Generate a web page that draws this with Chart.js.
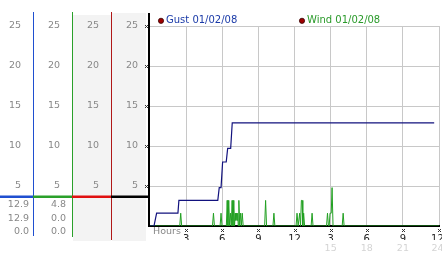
<!DOCTYPE html>
<html>
<head>
<meta charset="utf-8">
<script src="https://cdn.jsdelivr.net/npm/chart.js@4.4.0/dist/chart.umd.min.js"></script>
<style>
  html, body { margin: 0; padding: 0; background: #fff; }
  canvas { display: block; }
</style>
</head>
<body>
<canvas id="chart" width="442" height="253"></canvas>
<script>
// hours since midnight / mph
const gustHours  = [0, 0.33, 0.55, 2.32, 2.4, 5.63, 5.75, 5.9, 6.03, 6.33, 6.45, 6.7, 6.83, 23.6];
const gustValues = [0, 0, 1.6, 1.6, 3.2, 3.2, 4.8, 4.8, 8.0, 8.0, 9.7, 9.7, 12.9, 12.9];

const windHours = [0, 2.47, 2.55, 2.63, 5.19, 5.27, 5.35, 5.82, 5.9, 5.98,
  6.34, 6.41, 6.47, 6.54, 6.61, 6.68, 6.75, 6.82, 6.89, 6.96, 7.02, 7.08, 7.13, 7.18, 7.23, 7.28, 7.33, 7.38, 7.45, 7.52, 7.59, 7.66, 7.74,
  9.52, 9.6, 9.68, 10.21, 10.29, 10.37,
  12.13, 12.21, 12.3, 12.43, 12.5, 12.57, 12.63, 12.69, 12.76, 12.84,
  13.38, 13.46, 13.54, 14.66, 14.74, 14.82, 14.88, 14.95, 15.05, 15.12, 15.2,
  15.96, 16.04, 16.12, 24];
const windValues = [0, 0, 1.6, 0, 0, 1.6, 0, 0, 1.6, 0,
  0, 3.2, 0, 3.2, 0, 1.6, 0, 3.2, 0, 3.2, 0, 1.6, 0.7, 1.6, 0.7, 1.6, 0, 3.2, 0, 1.6, 0, 1.6, 0,
  0, 3.2, 0, 0, 1.6, 0,
  0, 1.6, 0, 1.6, 0, 3.2, 3.2, 0, 1.6, 0,
  0, 1.6, 0, 0, 1.6, 0, 0, 1.6, 1.6, 4.8, 0,
  0, 1.6, 0, 0];

const hourTicks  = [0, 3, 6, 9, 12, 15, 18, 21, 24];
const hourLabels = ['', '3', '6', '9', '12', '3', '6', '9', '12 '];
const lateLabels = ['', '', '', '', '', '15', '18', '21', '24 '];
const legendLabels = ['Gust 01/02/08', 'Wind 01/02/08'];
const gustStats = ['12.9', '12.9', '0.0'];
const windStats = ['4.8', '0.0', '0.0'];

const FONT = 'DejaVu Sans';
const smallFont = { family: FONT, size: 9.5 };

function sideAxis(width, weight, grid) {
  return {
    type: 'linear', position: 'left', min: 0, max: 25, weight: weight,
    afterFit: s => { s.width = width; },
    grid: grid ? { color: '#c8c8c8', drawTicks: false } : { display: false, drawTicks: false },
    border: { display: false },
    ticks: { stepSize: 5, padding: 12, color: '#888', font: smallFont,
      callback: v => v === 0 ? '' : v }
  };
}

function mark(ctx, x, y) {
  ctx.fillRect(x - 1, y - 1, 1, 1);
  ctx.fillRect(x + 1, y - 1, 1, 1);
  ctx.fillRect(x, y, 1, 1);
  ctx.fillRect(x - 1, y + 1, 1, 1);
  ctx.fillRect(x + 1, y + 1, 1, 1);
}

const panelPlugin = {
  id: 'panel',
  beforeDraw(chart) {
    const { ctx, scales } = chart;
    ctx.save();
    ctx.fillStyle = '#f3f3f3';
    ctx.fillRect(scales.yR.left + 1, 15, scales.yR.width - 1, 226);
    ctx.fillRect(scales.y.left + 1, 13, scales.y.width - 5, 228);
    ctx.restore();
  },
  afterDraw(chart) {
    const { ctx, scales, chartArea } = chart;
    ctx.save();
    // column lines
    ctx.fillStyle = '#1f4fd0';
    ctx.fillRect(scales.yB.right, 12, 1, 224);
    ctx.fillStyle = '#2aa02a';
    ctx.fillRect(scales.yG.right, 12, 1, 225);
    ctx.fillStyle = '#b01818';
    ctx.fillRect(scales.yR.right, 12, 1, 228);
    ctx.fillStyle = '#000';
    ctx.fillRect(scales.y.right - 2, 13, 2, 214);

    // divider
    const dy = 195.5, dh = 2.5;
    ctx.fillStyle = '#1f4fd0';
    ctx.fillRect(scales.yB.left, dy, scales.yB.width, dh);
    ctx.fillStyle = '#2aa02a';
    ctx.fillRect(scales.yG.left, dy, scales.yG.width, dh);
    ctx.fillStyle = '#e01010';
    ctx.fillRect(scales.yR.left, dy, scales.yR.width, dh);
    ctx.fillStyle = '#000';
    ctx.fillRect(scales.y.left, dy, scales.y.width - 1, dh);

    // stats table
    ctx.font = '9.5px "' + FONT + '"';
    ctx.fillStyle = '#888';
    ctx.textAlign = 'right';
    ctx.textBaseline = 'middle';
    const rowY = [205, 219, 232];
    gustStats.forEach((t, i) => ctx.fillText(t, scales.yB.right - 4, rowY[i]));
    windStats.forEach((t, i) => ctx.fillText(t, scales.yG.right - 6, rowY[i]));

    // Hours label
    ctx.textAlign = 'left';
    ctx.fillText('Hours', chartArea.left + 3, 232);

    // tick marks
    ctx.fillStyle = '#333';
    [5, 10, 15, 20, 25].forEach(v => mark(ctx, scales.y.right - 4, Math.round(scales.y.getPixelForValue(v))));
    hourTicks.slice(1).forEach(h => mark(ctx, Math.round(scales.x.getPixelForValue(h)), 230));

    // legend
    const items = [
      { x: 161, color: '#1a3aa8', text: legendLabels[0] },
      { x: 302, color: '#2a9a2a', text: legendLabels[1] }
    ];
    ctx.font = '10px "' + FONT + '"';
    items.forEach(it => {
      ctx.beginPath();
      ctx.arc(it.x, 20.8, 2.6, 0, Math.PI * 2);
      ctx.fillStyle = '#a00000';
      ctx.fill();
      ctx.strokeStyle = '#300';
      ctx.lineWidth = 0.8;
      ctx.stroke();
      ctx.fillStyle = it.color;
      ctx.fillText(it.text, it.x + 5, 20.5);
    });
    ctx.restore();
  }
};

new Chart(document.getElementById('chart'), {
  type: 'line',
  data: {
    datasets: [
      {
        label: 'Gust',
        data: gustHours.map((h, i) => ({ x: h, y: gustValues[i] })),
        borderColor: '#12127e', borderWidth: 1.2, pointRadius: 0, tension: 0,
        xAxisID: 'x', yAxisID: 'y'
      },
      {
        label: 'Wind',
        data: windHours.map((h, i) => ({ x: h, y: windValues[i] })),
        borderColor: '#22a022', borderWidth: 1, pointRadius: 0, tension: 0,
        xAxisID: 'x', yAxisID: 'y'
      }
    ]
  },
  options: {
    responsive: false,
    animation: false,
    layout: { padding: { top: 26, left: 0, right: 3, bottom: 0 } },
    plugins: { legend: { display: false }, tooltip: { enabled: false } },
    scales: {
      yB: sideAxis(33, 4, false),
      yG: sideAxis(39, 3, false),
      yR: sideAxis(39, 2, false),
      y: sideAxis(39, 1, true),
      x: {
        type: 'linear', position: 'bottom', min: 0, max: 24, weight: 1,
        afterFit: s => { s.height = 14; s.paddingLeft = 0; s.paddingRight = 0; },
        grid: { color: c => c.tick && c.tick.value === 0 ? 'rgba(0,0,0,0)' : '#c8c8c8', drawTicks: false },
        border: { display: true, color: '#000', width: 2 },
        ticks: { stepSize: 3, padding: 7, color: '#222', maxRotation: 0, autoSkip: false,
          font: { family: FONT, size: 10 },
          callback: v => hourLabels[hourTicks.indexOf(v)] }
      },
      x2: {
        type: 'linear', position: 'bottom', min: 0, max: 24, weight: 2,
        afterFit: s => { s.height = 13; s.paddingLeft = 0; s.paddingRight = 0; },
        grid: { display: false, drawTicks: false },
        border: { display: false },
        ticks: { stepSize: 3, padding: 3, color: '#d4d4d4', maxRotation: 0, autoSkip: false,
          font: { family: FONT, size: 9.5 },
          callback: v => lateLabels[hourTicks.indexOf(v)] }
      }
    }
  },
  plugins: [panelPlugin]
});
</script>
</body>
</html>
